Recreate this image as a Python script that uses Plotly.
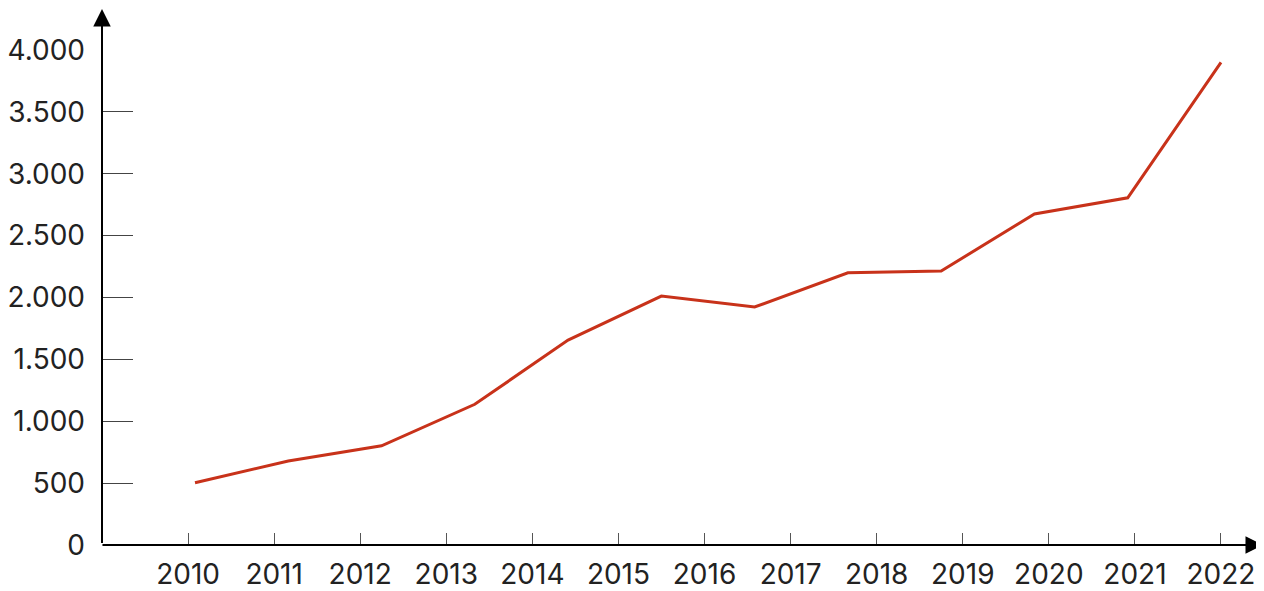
import plotly.graph_objects as go

#####################
##### DATA      #####
#####################

tick_years = list(range(2010, 2023))          # labels on the x axis
point_index = list(range(1, 13))              # 12 points, spread evenly across the width
values = [503, 679, 802, 1137, 1656, 2012, 1923, 2200, 2214, 2675, 2806, 3900]

line_color = "#C8321A"
text_color = "#222222"
font_family = "Inter, Roboto, Arial, sans-serif"

#####################
##### MAKE GRAPH #####
#####################

fig = go.Figure()
fig.add_trace(go.Scatter(x=point_index, y=values, mode="lines",
                         line=dict(color=line_color, width=3),
                         hoverinfo="skip", showlegend=False))
# empty trace so the year axis gets drawn
fig.add_trace(go.Scatter(x=[], y=[], xaxis="x2", yaxis="y",
                         hoverinfo="skip", showlegend=False))

# page body adds 8px around the figure, so the figure is 8px smaller each way
fig.update_layout(
    width=1256, height=583,
    margin=dict(l=94, r=14, t=42, b=46, pad=0),
    paper_bgcolor="white", plot_bgcolor="white",
    separators=",.",
    font=dict(family=font_family, size=28, color=text_color),
    # line lives on this (hidden) axis
    xaxis=dict(range=[0.003, 12.311], visible=False, automargin=False),
    # year labels on an overlaid axis
    xaxis2=dict(overlaying="x", anchor="y", side="bottom",
                range=[2009.0, 2022.337], tickvals=tick_years,
                ticks="inside", ticklen=12, tickwidth=1, tickcolor="#555555",
                ticklabelstandoff=10, automargin=False,
                showgrid=False, zeroline=False, showline=False),
    yaxis=dict(range=[0, 4000], tick0=0, dtick=500, separatethousands=True,
               ticks="inside", ticklen=31, tickwidth=1, tickcolor="#444444",
               ticklabelstandoff=16, automargin=False,
               showgrid=False, zeroline=False, showline=False),
)

# axis lines with arrow heads
fig.add_annotation(x=0, y=1.0838, xref="paper", yref="paper", text="",
                   showarrow=True, ax=0, ay=536, arrowhead=2, arrowsize=1.75,
                   arrowwidth=2, arrowcolor="black")
fig.add_annotation(x=1.0113, y=0, xref="paper", yref="paper", text="",
                   showarrow=True, ax=-1162, ay=0, arrowhead=2, arrowsize=1.75,
                   arrowwidth=2, arrowcolor="black")

fig.write_html("out.html")
